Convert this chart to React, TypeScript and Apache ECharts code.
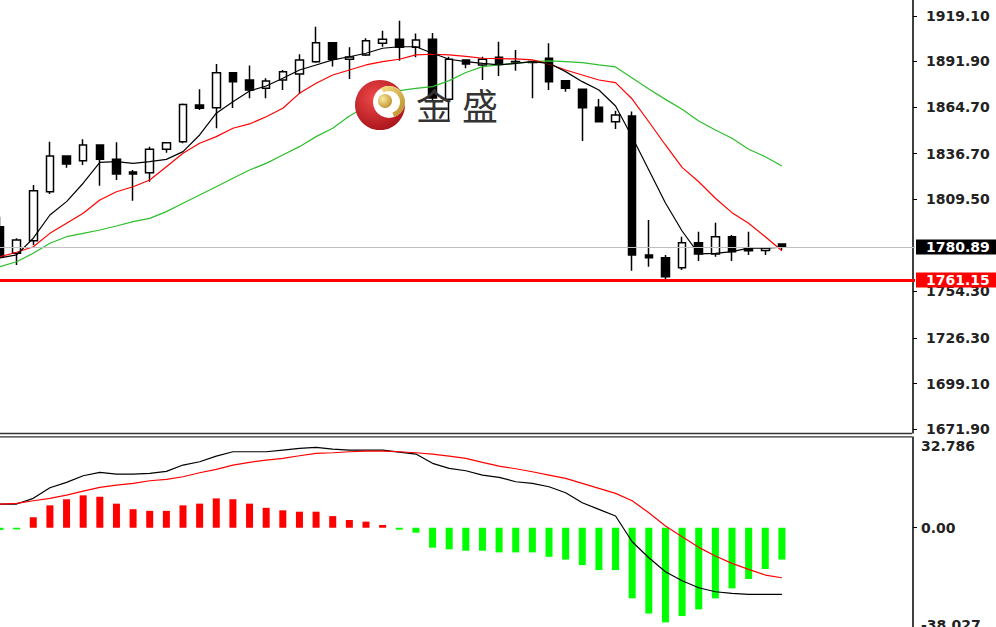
import React, { useEffect, useRef } from "react";
import * as echarts from "echarts";

// ---------- data ----------
const categories = [
  "1","2","3","4","5","6","7","8","9","10","11","12","13","14","15","16","17","18","19","20",
  "21","22","23","24","25","26","27","28","29","30","31","32","33","34","35","36","37","38","39","40",
  "41","42","43","44","45","46","47","48","49","50","51","52","53","54","55","56",
];

const opens = [1793.0, 1777.1, 1784.6, 1813.9, 1835.3, 1832.5, 1841.9, 1833.3, 1825.7, 1825.3, 1839.3, 1843.9, 1865.8, 1864.2, 1885.2, 1880.8, 1875.8, 1880.8, 1884.4, 1891.7, 1903.1, 1893.2, 1895.8, 1902.8, 1905.2, 1900.4, 1905.2, 1869.3, 1892.8, 1889.8, 1894.4, 1891.6, 1891.9, 1893.8, 1880.4, 1875.2, 1864.5, 1855.8, 1859.2, 1776.0, 1774.4, 1768.4, 1783.4, 1776.6, 1787.0, 1779.9, 1778.8, 1782.6];
const closes = [1775.0, 1785.0, 1814.5, 1835.3, 1830.5, 1841.9, 1833.3, 1824.5, 1824.5, 1839.3, 1843.3, 1866.2, 1863.9, 1885.2, 1879.8, 1874.8, 1880.2, 1885.8, 1892.8, 1903.1, 1893.2, 1894.6, 1904.3, 1905.2, 1900.4, 1904.7, 1870.0, 1893.2, 1890.4, 1893.2, 1890.8, 1891.9, 1891.3, 1879.8, 1875.8, 1864.2, 1855.8, 1859.8, 1776.0, 1774.4, 1763.1, 1783.4, 1776.6, 1787.0, 1778.0, 1778.6, 1780.2, 1780.89];
const lows = [1774.2, 1770.1, 1782.0, 1812.6, 1828.3, 1829.9, 1817.5, 1820.9, 1808.5, 1819.9, 1837.3, 1842.9, 1862.8, 1851.9, 1864.0, 1869.8, 1869.8, 1874.8, 1872.4, 1891.1, 1888.8, 1881.4, 1895.2, 1900.7, 1892.3, 1894.4, 1868.5, 1855.8, 1887.8, 1880.8, 1883.2, 1886.4, 1869.8, 1874.8, 1873.8, 1844.3, 1855.5, 1851.5, 1766.6, 1769.0, 1761.15, 1767.1, 1772.5, 1775.0, 1772.5, 1776.0, 1776.0, 1779.0];
const highs = [1799.0, 1786.0, 1818.0, 1843.9, 1835.6, 1845.3, 1842.2, 1843.5, 1826.9, 1840.9, 1843.5, 1866.8, 1875.2, 1890.4, 1885.5, 1889.4, 1881.8, 1886.8, 1896.2, 1912.7, 1903.4, 1900.4, 1905.8, 1910.3, 1916.3, 1908.7, 1908.9, 1894.7, 1893.0, 1894.7, 1903.7, 1898.7, 1892.2, 1902.8, 1880.6, 1875.5, 1869.4, 1862.4, 1862.0, 1797.0, 1776.0, 1787.0, 1790.0, 1795.4, 1788.0, 1790.0, 1780.6, 1782.8];

const ma5 = [1774.3, 1776.1, 1786.1, 1800.0, 1808.0, 1819.0, 1831.5, 1831.9, 1830.9, 1831.9, 1833.3, 1837.9, 1847.9, 1860.9, 1867.8, 1874.2, 1877.2, 1881.8, 1886.8, 1889.8, 1892.8, 1894.7, 1896.8, 1899.8, 1900.7, 1900.7, 1896.8, 1893.2, 1891.8, 1890.8, 1889.8, 1890.8, 1891.8, 1890.8, 1885.8, 1879.8, 1874.8, 1865.2, 1846.7, 1826.9, 1807.2, 1790.4, 1776.7, 1777.0, 1778.1, 1780.2, 1780.1, 1780.8];
const ma10 = [1775.0, 1777.7, 1781.0, 1789.0, 1795.0, 1801.0, 1809.0, 1813.9, 1816.9, 1820.9, 1828.9, 1836.9, 1842.9, 1846.9, 1851.9, 1854.5, 1858.8, 1863.9, 1872.8, 1878.8, 1883.8, 1886.8, 1889.8, 1891.8, 1893.2, 1895.8, 1896.2, 1895.8, 1894.9, 1893.8, 1893.6, 1893.4, 1892.8, 1890.4, 1886.8, 1883.8, 1880.8, 1879.2, 1869.4, 1855.8, 1841.9, 1828.5, 1819.9, 1810.0, 1801.4, 1795.0, 1787.0, 1778.6];
const ma20 = [1769.1, 1772.0, 1777.1, 1783.1, 1787.0, 1789.0, 1791.0, 1793.4, 1796.0, 1798.0, 1802.0, 1807.0, 1812.0, 1816.9, 1822.0, 1826.9, 1830.9, 1835.9, 1840.9, 1846.9, 1851.9, 1859.3, 1864.8, 1869.8, 1874.4, 1875.8, 1876.8, 1880.4, 1885.3, 1888.8, 1889.8, 1890.8, 1891.8, 1892.2, 1891.8, 1891.2, 1889.8, 1888.6, 1882.0, 1875.4, 1869.2, 1863.3, 1856.3, 1850.9, 1845.9, 1839.3, 1834.9, 1829.3];

const macdHist = [-0.8, -0.6, 3.8, 8.1, 10.3, 11.7, 11.2, 8.7, 6.7, 6.1, 6.1, 8.1, 8.7, 10.6, 10.3, 8.7, 7.2, 6.3, 5.8, 5.8, 4.2, 2.8, 2.2, 1.0, -0.7, -1.8, -7.2, -7.8, -8.3, -8.3, -8.9, -8.9, -8.9, -10.5, -11.5, -13.5, -15.3, -15.3, -25.5, -31.0, -34.2, -31.9, -29.5, -25.5, -21.9, -18.5, -14.9, -11.5];
const macdDif = [8.56, 8.56, 10.62, 14.45, 16.4, 18.79, 20.01, 19.4, 19.4, 19.65, 20.38, 22.65, 23.84, 25.9, 27.46, 27.46, 27.46, 28.07, 28.68, 29.05, 28.43, 28.07, 28.07, 28.07, 27.35, 26.63, 23.27, 21.46, 20.59, 19.04, 18.21, 16.62, 16.04, 14.81, 12.64, 9.03, 6.65, 4.23, -5.06, -10.84, -15.9, -19.15, -21.68, -23.12, -23.7, -24.06, -24.06, -24.06];
const macdDea = [8.56, 8.82, 9.75, 10.62, 11.81, 13.26, 14.6, 15.43, 16.04, 16.98, 17.49, 18.42, 19.87, 21.1, 22.65, 23.63, 24.46, 25.07, 26.01, 26.88, 27.1, 27.46, 27.71, 27.71, 27.46, 27.1, 26.63, 25.9, 25.07, 23.63, 22.29, 21.32, 20.23, 19.04, 17.85, 16.04, 14.23, 12.43, 9.75, 5.42, 0.61, -3.25, -7.08, -10.22, -12.86, -15.03, -17.09, -18.06];

const priceTicks = [1671.9, 1699.1, 1726.3, 1754.3, 1809.5, 1836.7, 1864.7, 1891.9, 1919.1];
const macdTicks = [-38.027, 0, 32.786];
const lastPrice = 1780.89;
const supportLevel = 1761.15;
const logoText = ["金", "盛"];

// ---------- layout ----------
const FONT = '"DejaVu Sans", Verdana, sans-serif';
const PRICE_MIN = 1669.506;
const PRICE_MAX = 1928.677;
const MACD_MIN = -38.027;
const MACD_MAX = 32.786;

export default function App() {
  const ref = useRef<HTMLDivElement | null>(null);

  useEffect(() => {
    if (!ref.current) return;
    const chart = echarts.init(ref.current, null, { renderer: "svg" });

    const candleData = opens.map((o, i) => [o, closes[i], lows[i], highs[i]]);

    const labelStyle = {
      color: "#222",
      fontFamily: FONT,
      fontSize: 14,
      fontWeight: "bold" as const,
    };

    const gold = new echarts.graphic.LinearGradient(0, 0, 1, 1, [
      { offset: 0, color: "#f6e08a" },
      { offset: 1, color: "#b88a22" },
    ]);
    const goldBall = new echarts.graphic.RadialGradient(0.35, 0.35, 0.8, [
      { offset: 0, color: "#fbeaa0" },
      { offset: 1, color: "#b8871e" },
    ]);
    const redBall = new echarts.graphic.RadialGradient(0.4, 0.35, 0.75, [
      { offset: 0, color: "#f04a4a" },
      { offset: 1, color: "#a30f17" },
    ]);

    const option: any = {
      animation: false,
      backgroundColor: "#ffffff",
      grid: [
        { left: 0, right: 81, top: 0, height: 433 },
        { left: 0, right: 81, top: 437, height: 196 },
      ],
      xAxis: [
        { type: "category", gridIndex: 0, data: categories, boundaryGap: false, show: false },
        { type: "category", gridIndex: 1, data: categories, boundaryGap: false, show: false },
      ],
      yAxis: [
        {
          type: "value",
          gridIndex: 0,
          position: "right",
          offset: -2,
          min: PRICE_MIN,
          max: PRICE_MAX,
          splitLine: { show: false },
          axisLine: { show: true, lineStyle: { color: "#000", width: 1.5 } },
          axisTick: { show: true, length: 4, customValues: priceTicks, lineStyle: { color: "#000" } },
          axisLabel: {
            customValues: priceTicks,
            formatter: (v: number) => v.toFixed(2),
            margin: 13,
            ...labelStyle,
          },
        },
        {
          type: "value",
          gridIndex: 1,
          position: "right",
          offset: -2,
          min: MACD_MIN,
          max: MACD_MAX,
          splitLine: { show: false },
          axisLine: { show: true, lineStyle: { color: "#000", width: 1.5 } },
          axisTick: { show: true, length: 4, customValues: [0], lineStyle: { color: "#000" } },
          axisLabel: {
            customValues: macdTicks,
            margin: 8,
            ...labelStyle,
            formatter: (v: number) => {
              if (Math.abs(v) < 1e-9) return "{n|0.00}";
              if (v > 0) return "{t|" + v.toFixed(3) + "}";
              return "{b|" + v.toFixed(3) + "}";
            },
            rich: {
              n: { ...labelStyle },
              t: { ...labelStyle, padding: [17, 0, 0, 0] },
              b: { ...labelStyle, padding: [0, 0, 17, 0] },
            },
          },
        },
      ],
      series: [
        {
          type: "candlestick",
          xAxisIndex: 0,
          yAxisIndex: 0,
          data: candleData,
          barWidth: 8,
          itemStyle: {
            color: "#ffffff",
            color0: "#000000",
            borderColor: "#000000",
            borderColor0: "#000000",
            borderWidth: 1.5,
          },
          markLine: {
            silent: true,
            symbol: ["none", "none"],
            label: {
              show: true,
              position: "end",
              distance: 1,
              color: "#ffffff",
              fontFamily: FONT,
              fontSize: 14,
              fontWeight: "bold",
              padding: [1, 10, 0, 10],
              formatter: (p: any) => Number(p.value).toFixed(2),
            },
            data: [
              {
                yAxis: lastPrice,
                lineStyle: { color: "#c0c0c0", width: 1, type: "solid" },
                label: { backgroundColor: "#000000" },
              },
              {
                yAxis: supportLevel,
                lineStyle: { color: "#ff0000", width: 3, type: "solid" },
                label: { backgroundColor: "#ff0000" },
              },
            ],
          },
        },
        {
          type: "line",
          xAxisIndex: 0,
          yAxisIndex: 0,
          data: ma20,
          symbol: "none",
          lineStyle: { color: "#2dbe2d", width: 1.2 },
        },
        {
          type: "line",
          xAxisIndex: 0,
          yAxisIndex: 0,
          data: ma10,
          symbol: "none",
          lineStyle: { color: "#ff0000", width: 1.2 },
        },
        {
          type: "line",
          xAxisIndex: 0,
          yAxisIndex: 0,
          data: ma5,
          symbol: "none",
          lineStyle: { color: "#000000", width: 1.2 },
        },
        {
          type: "bar",
          xAxisIndex: 1,
          yAxisIndex: 1,
          data: macdHist,
          barWidth: 7,
          itemStyle: {
            color: (p: any) => (p.value >= 0 ? "#ff0000" : "#00ff00"),
          },
        },
        {
          type: "line",
          xAxisIndex: 1,
          yAxisIndex: 1,
          data: macdDif,
          symbol: "none",
          lineStyle: { color: "#000000", width: 1.2 },
        },
        {
          type: "line",
          xAxisIndex: 1,
          yAxisIndex: 1,
          data: macdDea,
          symbol: "none",
          lineStyle: { color: "#ff0000", width: 1.2 },
        },
      ],
      graphic: [
        {
          type: "line",
          z: 50,
          shape: { x1: 0, y1: 433.5, x2: 912, y2: 433.5 },
          style: { stroke: "#333", lineWidth: 1.3 },
        },
        {
          type: "line",
          z: 50,
          shape: { x1: 0, y1: 436.8, x2: 912, y2: 436.8 },
          style: { stroke: "#333", lineWidth: 1.3 },
        },
        {
          type: "group",
          z: 100,
          children: [
            { type: "circle", z: 100, shape: { cx: 380, cy: 105, r: 25 }, style: { fill: redBall } },
            { type: "circle", z: 101, shape: { cx: 389, cy: 102, r: 16 }, style: { fill: "#ffffff" } },
            {
              type: "sector",
              z: 102,
              shape: { cx: 389, cy: 102, r: 16, r0: 11, startAngle: -2.1, endAngle: 1.25, clockwise: true },
              style: { fill: gold },
            },
            { type: "circle", z: 103, shape: { cx: 385, cy: 101, r: 7 }, style: { fill: goldBall } },
            {
              type: "text",
              z: 104,
              x: 434,
              y: 104,
              style: {
                text: logoText[0],
                fill: "#333333",
                fontSize: 36,
                fontFamily: '"Noto Sans CJK SC"',
                align: "center",
                verticalAlign: "middle",
              },
            },
            {
              type: "text",
              z: 104,
              x: 480,
              y: 104,
              style: {
                text: logoText[1],
                fill: "#333333",
                fontSize: 36,
                fontFamily: '"Noto Sans CJK SC"',
                align: "center",
                verticalAlign: "middle",
              },
            },
          ],
        },
      ],
    };

    chart.setOption(option);
    return () => chart.dispose();
  }, []);

  return (
    <div
      ref={ref}
      style={{ position: "fixed", left: 0, top: 0, width: 996, height: 640, background: "#ffffff" }}
    />
  );
}
